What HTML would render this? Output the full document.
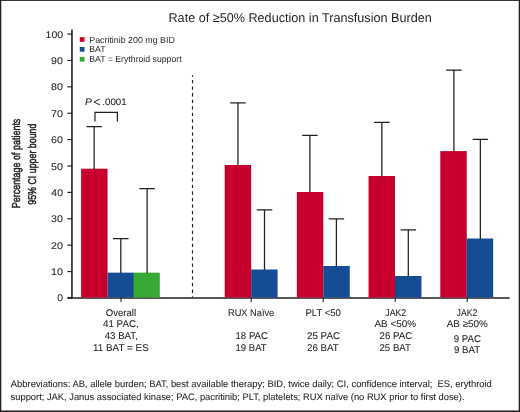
<!DOCTYPE html>
<html><head><meta charset="utf-8"><title>Rate of ≥50% Reduction in Transfusion Burden</title>
<style>
html,body{margin:0;padding:0;background:#fff;overflow:hidden;}
svg{display:block;will-change:transform;text-rendering:geometricPrecision;font-family:"Liberation Sans",sans-serif;fill:#231f20;}
</style></head><body>
<svg width="520" height="412" viewBox="0 0 520 412">
<rect x="0" y="0" width="520" height="412" fill="#fff"/>
<rect x="0" y="0" width="520" height="0.9" fill="#231f20"/>
<rect x="0" y="0" width="1.3" height="412" fill="#231f20"/>
<rect x="518.7" y="0" width="1.3" height="412" fill="#231f20"/>
<rect x="0" y="410.5" width="520" height="1.5" fill="#231f20"/>
<path d="M67.4 297.95H509.6" stroke="#231f20" stroke-width="1.6" fill="none"/>
<rect x="81.1" y="168.7" width="26.45" height="128.85" fill="#c7002e"/>
<rect x="107.55" y="272.65" width="26.45" height="24.90" fill="#164c94"/>
<rect x="133.6" y="272.65" width="26.2" height="24.90" fill="#37a935"/>
<rect x="224.7" y="165" width="26.45" height="132.55" fill="#c7002e"/>
<rect x="251.15" y="269.5" width="26.45" height="28.05" fill="#164c94"/>
<rect x="296.85" y="192" width="26.45" height="105.55" fill="#c7002e"/>
<rect x="323.3" y="266" width="26.45" height="31.55" fill="#164c94"/>
<rect x="368.55" y="176" width="26.45" height="121.55" fill="#c7002e"/>
<rect x="395.0" y="276" width="26.45" height="21.55" fill="#164c94"/>
<rect x="440.3" y="151.1" width="26.45" height="146.45" fill="#c7002e"/>
<rect x="466.7" y="238.5" width="26.45" height="59.05" fill="#164c94"/>
<path d="M86.40 126.5H101.90M94.15 126.5V169.2" stroke="#231f20" stroke-width="1.25" fill="none"/>
<path d="M113.05 238.5H128.55M120.8 238.5V273.15" stroke="#231f20" stroke-width="1.25" fill="none"/>
<path d="M139.35 188.6H154.85M147.1 188.6V273.15" stroke="#231f20" stroke-width="1.25" fill="none"/>
<path d="M230.20 102.85H245.70M237.95 102.85V165.5" stroke="#231f20" stroke-width="1.25" fill="none"/>
<path d="M256.75 209.85H272.25M264.5 209.85V270.0" stroke="#231f20" stroke-width="1.25" fill="none"/>
<path d="M302.15 135.3H317.65M309.9 135.3V192.5" stroke="#231f20" stroke-width="1.25" fill="none"/>
<path d="M328.65 218.9H344.15M336.4 218.9V266.5" stroke="#231f20" stroke-width="1.25" fill="none"/>
<path d="M374.10 122.3H389.60M381.85 122.3V176.5" stroke="#231f20" stroke-width="1.25" fill="none"/>
<path d="M400.55 229.9H416.05M408.3 229.9V276.5" stroke="#231f20" stroke-width="1.25" fill="none"/>
<path d="M446.15 70.1H461.65M453.9 70.1V151.6" stroke="#231f20" stroke-width="1.25" fill="none"/>
<path d="M472.60 139.4H488.10M480.35 139.4V239.0" stroke="#231f20" stroke-width="1.25" fill="none"/>
<path d="M94.95 121.6V112.4H117.4V121.6" stroke="#231f20" stroke-width="1.2" fill="none"/>
<path d="M192.5 75.2V297.2" stroke="#231f20" stroke-width="1.15" stroke-dasharray="3.3 3.25" stroke-dashoffset="1.75" fill="none"/>
<path d="M71.95 29.4V298.6" stroke="#231f20" stroke-width="1.6" fill="none"/>
<path d="M67.4 297.95H72" stroke="#231f20" stroke-width="1.15" fill="none"/>
<path d="M67.4 271.56H72" stroke="#231f20" stroke-width="1.15" fill="none"/>
<path d="M67.4 245.17H72" stroke="#231f20" stroke-width="1.15" fill="none"/>
<path d="M67.4 218.78H72" stroke="#231f20" stroke-width="1.15" fill="none"/>
<path d="M67.4 192.39H72" stroke="#231f20" stroke-width="1.15" fill="none"/>
<path d="M67.4 166.00H72" stroke="#231f20" stroke-width="1.15" fill="none"/>
<path d="M67.4 139.61H72" stroke="#231f20" stroke-width="1.15" fill="none"/>
<path d="M67.4 113.22H72" stroke="#231f20" stroke-width="1.15" fill="none"/>
<path d="M67.4 86.83H72" stroke="#231f20" stroke-width="1.15" fill="none"/>
<path d="M67.4 60.44H72" stroke="#231f20" stroke-width="1.15" fill="none"/>
<path d="M67.4 34.05H72" stroke="#231f20" stroke-width="1.15" fill="none"/>
<path d="M121 297.6V302" stroke="#231f20" stroke-width="1.1" fill="none"/>
<path d="M251.2 297.6V302" stroke="#231f20" stroke-width="1.1" fill="none"/>
<path d="M323.2 297.6V302" stroke="#231f20" stroke-width="1.1" fill="none"/>
<path d="M395.2 297.6V302" stroke="#231f20" stroke-width="1.1" fill="none"/>
<path d="M467.2 297.6V302" stroke="#231f20" stroke-width="1.1" fill="none"/>
<rect x="79.8" y="37.15" width="4.7" height="4.7" fill="#c7002e"/>
<rect x="79.8" y="47.00" width="4.7" height="4.7" fill="#164c94"/>
<rect x="79.8" y="56.85" width="4.7" height="4.7" fill="#37a935"/>
<path d="M99.9 99.15L93.9 102.05L99.9 104.95" stroke="#231f20" stroke-width="0.95" fill="none"/>
<text x="168.51" y="21.5" font-size="12.8" textLength="263.27" lengthAdjust="spacingAndGlyphs" xml:space="preserve">Rate of ≥50% Reduction in Transfusion Burden</text>
<text x="89.25" y="42.5" font-size="8.9" textLength="85.59" lengthAdjust="spacingAndGlyphs" xml:space="preserve">Pacritinib 200 mg BID</text>
<text x="89.26" y="52.0" font-size="8.9" textLength="16.35" lengthAdjust="spacingAndGlyphs" xml:space="preserve">BAT</text>
<text x="89.26" y="61.75" font-size="8.9" textLength="92.37" lengthAdjust="spacingAndGlyphs" xml:space="preserve">BAT = Erythroid support</text>
<text x="84.92" y="105.1" font-size="9.3" textLength="6.82" lengthAdjust="spacingAndGlyphs" xml:space="preserve" stroke="#231f20" stroke-width="0.07"><tspan font-style="italic">P</tspan></text>
<text x="102.31" y="105.1" font-size="9.3" textLength="24.43" lengthAdjust="spacingAndGlyphs" xml:space="preserve" stroke="#231f20" stroke-width="0.07">.0001</text>
<text x="105.76" y="315.6" font-size="9.8" textLength="30.27" lengthAdjust="spacingAndGlyphs" xml:space="preserve" stroke="#231f20" stroke-width="0.07">Overall</text>
<text x="103.0" y="327.4" font-size="9.8" textLength="35.77" lengthAdjust="spacingAndGlyphs" xml:space="preserve" stroke="#231f20" stroke-width="0.07">41 PAC,</text>
<text x="104.75" y="339.0" font-size="9.8" textLength="33.08" lengthAdjust="spacingAndGlyphs" xml:space="preserve" stroke="#231f20" stroke-width="0.07">43 BAT,</text>
<text x="92.99" y="350.6" font-size="9.8" textLength="55.79" lengthAdjust="spacingAndGlyphs" xml:space="preserve" stroke="#231f20" stroke-width="0.07">11 BAT = ES</text>
<text x="228.04" y="315.5" font-size="9.8" textLength="46.18" lengthAdjust="spacingAndGlyphs" xml:space="preserve" stroke="#231f20" stroke-width="0.07">RUX Naïve</text>
<text x="235.51" y="339.2" font-size="9.8" textLength="32.53" lengthAdjust="spacingAndGlyphs" xml:space="preserve" stroke="#231f20" stroke-width="0.07">18 PAC</text>
<text x="235.52" y="350.7" font-size="9.8" textLength="31.18" lengthAdjust="spacingAndGlyphs" xml:space="preserve" stroke="#231f20" stroke-width="0.07">19 BAT</text>
<text x="305.52" y="315.5" font-size="9.8" textLength="35.37" lengthAdjust="spacingAndGlyphs" xml:space="preserve" stroke="#231f20" stroke-width="0.07">PLT &lt;50</text>
<text x="307.0" y="339.2" font-size="9.8" textLength="33.05" lengthAdjust="spacingAndGlyphs" xml:space="preserve" stroke="#231f20" stroke-width="0.07">25 PAC</text>
<text x="307.0" y="350.7" font-size="9.8" textLength="31.7" lengthAdjust="spacingAndGlyphs" xml:space="preserve" stroke="#231f20" stroke-width="0.07">26 BAT</text>
<text x="385.28" y="315.5" font-size="9.8" textLength="20.85" lengthAdjust="spacingAndGlyphs" xml:space="preserve" stroke="#231f20" stroke-width="0.07">JAK2</text>
<text x="374.5" y="327.1" font-size="9.8" textLength="41.63" lengthAdjust="spacingAndGlyphs" xml:space="preserve" stroke="#231f20" stroke-width="0.07">AB &lt;50%</text>
<text x="379.5" y="339.2" font-size="9.8" textLength="32.79" lengthAdjust="spacingAndGlyphs" xml:space="preserve" stroke="#231f20" stroke-width="0.07">26 PAC</text>
<text x="379.51" y="350.6" font-size="9.8" textLength="31.44" lengthAdjust="spacingAndGlyphs" xml:space="preserve" stroke="#231f20" stroke-width="0.07">25 BAT</text>
<text x="456.53" y="315.5" font-size="9.8" textLength="20.85" lengthAdjust="spacingAndGlyphs" xml:space="preserve" stroke="#231f20" stroke-width="0.07">JAK2</text>
<text x="446.75" y="327.1" font-size="9.8" textLength="41.03" lengthAdjust="spacingAndGlyphs" xml:space="preserve" stroke="#231f20" stroke-width="0.07">AB ≥50%</text>
<text x="453.75" y="341.7" font-size="9.8" textLength="27.34" lengthAdjust="spacingAndGlyphs" xml:space="preserve" stroke="#231f20" stroke-width="0.07">9 PAC</text>
<text x="454.0" y="353.25" font-size="9.8" textLength="26.24" lengthAdjust="spacingAndGlyphs" xml:space="preserve" stroke="#231f20" stroke-width="0.07">9 BAT</text>
<text x="10.85" y="387.2" font-size="9.45" textLength="480.98" lengthAdjust="spacingAndGlyphs" xml:space="preserve" stroke="#231f20" stroke-width="0.07">Abbreviations: AB, allele burden; BAT, best available therapy; BID, twice daily; CI, confidence interval;  ES, erythroid</text>
<text x="10.6" y="399.5" font-size="9.45" textLength="453.86" lengthAdjust="spacingAndGlyphs" xml:space="preserve" stroke="#231f20" stroke-width="0.07">support; JAK, Janus associated kinase; PAC, pacritinib; PLT, platelets; RUX naïve (no RUX prior to first dose).</text>
<text x="57.33" y="301.45" font-size="9.7" textLength="5.73" lengthAdjust="spacingAndGlyphs" xml:space="preserve" stroke="#231f20" stroke-width="0.07">0</text>
<text x="51.07" y="275.06" font-size="9.7" textLength="11.89" lengthAdjust="spacingAndGlyphs" xml:space="preserve" stroke="#231f20" stroke-width="0.07">10</text>
<text x="51.1" y="248.67" font-size="9.7" textLength="11.86" lengthAdjust="spacingAndGlyphs" xml:space="preserve" stroke="#231f20" stroke-width="0.07">20</text>
<text x="51.1" y="222.28" font-size="9.7" textLength="11.86" lengthAdjust="spacingAndGlyphs" xml:space="preserve" stroke="#231f20" stroke-width="0.07">30</text>
<text x="51.38" y="195.89" font-size="9.7" textLength="11.57" lengthAdjust="spacingAndGlyphs" xml:space="preserve" stroke="#231f20" stroke-width="0.07">40</text>
<text x="51.1" y="169.5" font-size="9.7" textLength="11.86" lengthAdjust="spacingAndGlyphs" xml:space="preserve" stroke="#231f20" stroke-width="0.07">50</text>
<text x="51.1" y="143.11" font-size="9.7" textLength="11.86" lengthAdjust="spacingAndGlyphs" xml:space="preserve" stroke="#231f20" stroke-width="0.07">60</text>
<text x="51.1" y="116.72" font-size="9.7" textLength="11.86" lengthAdjust="spacingAndGlyphs" xml:space="preserve" stroke="#231f20" stroke-width="0.07">70</text>
<text x="51.1" y="90.33" font-size="9.7" textLength="11.86" lengthAdjust="spacingAndGlyphs" xml:space="preserve" stroke="#231f20" stroke-width="0.07">80</text>
<text x="51.1" y="63.94" font-size="9.7" textLength="11.86" lengthAdjust="spacingAndGlyphs" xml:space="preserve" stroke="#231f20" stroke-width="0.07">90</text>
<text x="45.64" y="37.55" font-size="9.7" textLength="17.47" lengthAdjust="spacingAndGlyphs" xml:space="preserve" stroke="#231f20" stroke-width="0.07">100</text>
<text transform="translate(20.35 163.45) rotate(-90)" font-size="11.5" text-anchor="middle" textLength="89.6" lengthAdjust="spacingAndGlyphs" stroke="#231f20" stroke-width="0.5">Percentage of patients</text>
<text transform="translate(35.6 164.15) rotate(-90)" font-size="11.3" text-anchor="middle" textLength="81.2" lengthAdjust="spacingAndGlyphs" stroke="#231f20" stroke-width="0.5">95% CI upper bound</text>
</svg>
</body></html>
